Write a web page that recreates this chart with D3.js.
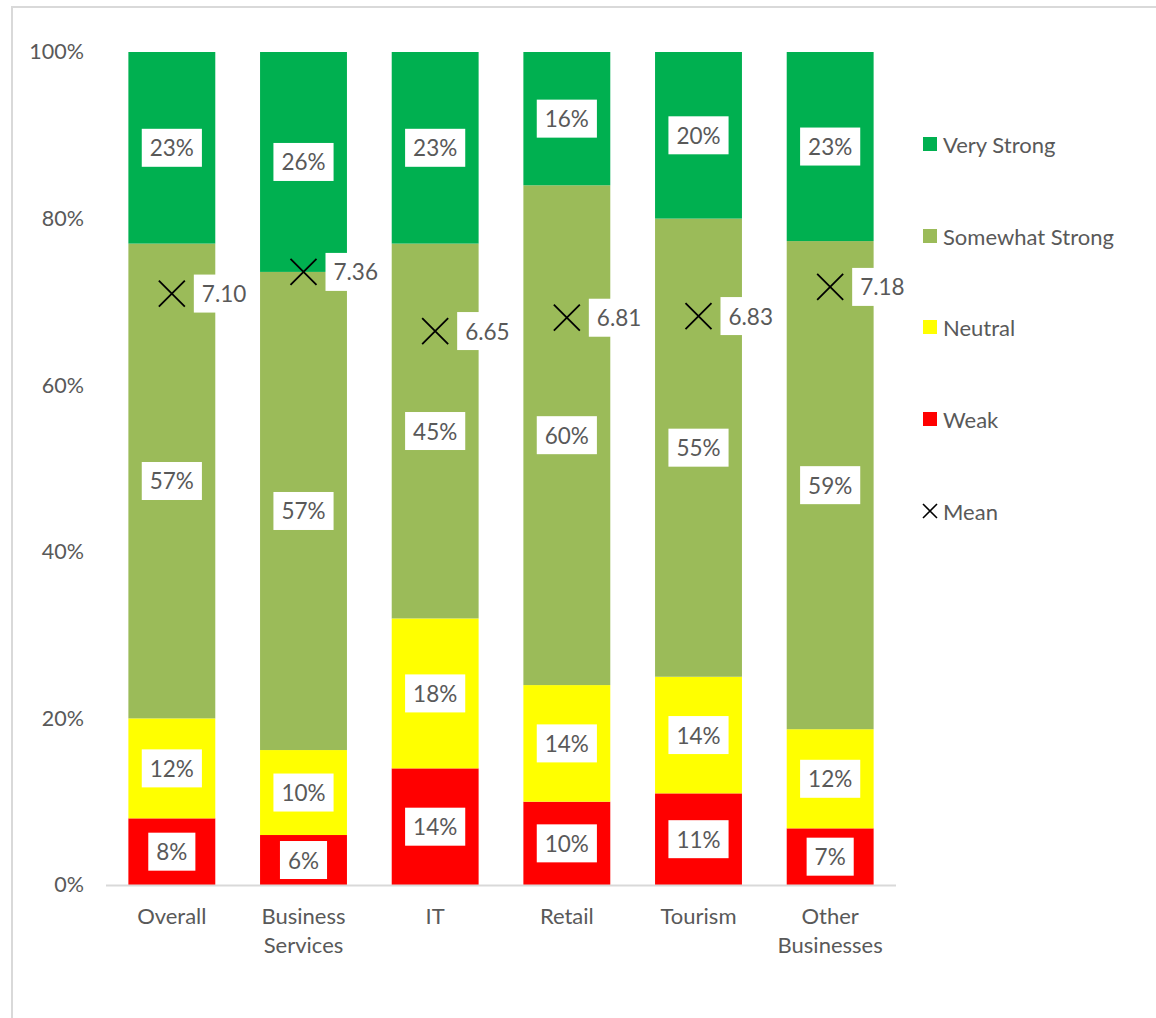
<!DOCTYPE html>
<html><head><meta charset="utf-8">
<script src="https://cdn.jsdelivr.net/npm/d3@7"></script>
<style>
html,body{margin:0;padding:0;background:#fff;}
svg{display:block;}
text{font-family:Lato,"Open Sans",sans-serif;fill:#595959;}
</style></head>
<body>
<svg id="chart" width="1156" height="1018"></svg>
<script>
const categories = ["Overall", "Business\nServices", "IT", "Retail", "Tourism", "Other\nBusinesses"];
const seriesNames = ["Weak", "Neutral", "Somewhat Strong", "Very Strong"];
const weak = [8, 6, 14, 10, 11, 6.8];
const neutral = [12, 10.2, 18, 14, 14, 11.9];
const somewhatStrong = [57, 57.4, 45, 60, 55, 58.6];
const veryStrong = [23, 26.4, 23, 16, 20, 22.7];
const means = [7.10, 7.36, 6.65, 6.81, 6.83, 7.18];
const yTicks = [0, 20, 40, 60, 80, 100];
const colors = {"Weak":"#ff0000","Neutral":"#ffff00","Somewhat Strong":"#9bbb59","Very Strong":"#00b050"};

const svg = d3.select("#chart");
// outer chart border
svg.append("rect").attr("x",12).attr("y",7).attr("width",1160).attr("height",1030)
  .attr("fill","none").attr("stroke","#d9d9d9").attr("stroke-width",2);

const x = d3.scaleBand().domain(categories).range([106, 896]).paddingInner(0.34).paddingOuter(0.17);
const y = d3.scaleLinear().domain([0, 100]).range([885, 52]);
const yMean = d3.scaleLinear().domain([0, 10]).range([885, 52]);

const rows = categories.map((c, i) => ({cat: c, "Weak": weak[i], "Neutral": neutral[i], "Somewhat Strong": somewhatStrong[i], "Very Strong": veryStrong[i]}));
const stack = d3.stack().keys(seriesNames)(rows);

// y axis labels
const yAxis = d3.axisLeft(y).tickValues(yTicks).tickFormat(d => d + "%").tickSize(0).tickPadding(0);
const ya = svg.append("g").attr("transform","translate(84,0)").call(yAxis);
ya.select(".domain").remove();
ya.selectAll("text").attr("font-size",21.5).style("fill","#595959").style("font-family","Lato");

// bars
const g = svg.append("g");
stack.forEach(layer => {
  g.selectAll(null).data(layer).enter().append("rect")
    .attr("x", d => x(d.data.cat))
    .attr("width", x.bandwidth())
    .attr("y", d => y(d[1]))
    .attr("height", d => y(d[0]) - y(d[1]))
    .attr("fill", colors[layer.key]);
});

// x axis line
svg.append("line").attr("x1",106).attr("x2",896).attr("y1",885.5).attr("y2",885.5)
  .attr("stroke","#d9d9d9").attr("stroke-width",2);

// category labels
categories.forEach(c => {
  const lines = c.split("\n");
  const t = svg.append("text").attr("text-anchor","middle").attr("font-size",22)
    .attr("x", x(c) + x.bandwidth()/2).attr("y", 924);
  lines.forEach((l, k) => t.append("tspan").attr("x", x(c) + x.bandwidth()/2).attr("dy", k === 0 ? 0 : 29).text(l));
});

// boxed label helper
function boxLabel(parent, cx, cy, txt, anchor) {
  const grp = parent.append("g");
  const t = grp.append("text").attr("font-size",22.5).attr("dominant-baseline","central")
    .attr("text-anchor", anchor).attr("x", cx).attr("y", cy).text(txt);
  const bb = t.node().getBBox();
  grp.insert("rect","text").attr("x", bb.x - 8).attr("y", cy - 19).attr("width", bb.width + 16).attr("height", 38).attr("fill","#fff");
}

// segment labels
const lg = svg.append("g");
stack.forEach(layer => {
  layer.forEach(d => {
    const v = d[1] - d[0];
    boxLabel(lg, x(d.data.cat) + x.bandwidth()/2, (y(d[0]) + y(d[1]))/2, Math.round(v) + "%", "middle");
  });
});

// mean markers
const mg = svg.append("g");
means.forEach((m, i) => {
  const cx = x(categories[i]) + x.bandwidth()/2, cy = yMean(m), s = 13;
  mg.append("path").attr("d", `M${cx-s},${cy-s}L${cx+s},${cy+s}M${cx-s},${cy+s}L${cx+s},${cy-s}`)
    .attr("stroke","#000").attr("stroke-width",1.8).attr("fill","none");
  boxLabel(mg, cx + 30, cy, m.toFixed(2), "start");
});

// legend
const legendItems = ["Very Strong", "Somewhat Strong", "Neutral", "Weak", "Mean"];
const legY = [144, 236, 327, 419, 511];
legendItems.forEach((name, i) => {
  const cy = legY[i];
  if (name === "Mean") {
    const cx = 930, s = 7;
    svg.append("path").attr("d", `M${cx-s},${cy-s}L${cx+s},${cy+s}M${cx-s},${cy+s}L${cx+s},${cy-s}`)
      .attr("stroke","#000").attr("stroke-width",1.6);
  } else {
    svg.append("rect").attr("x",923).attr("y",cy-7).attr("width",14).attr("height",14).attr("fill",colors[name]);
  }
  svg.append("text").attr("x",943).attr("y",cy).attr("dominant-baseline","central").attr("font-size",22).text(name);
});
</script>
</body></html>
